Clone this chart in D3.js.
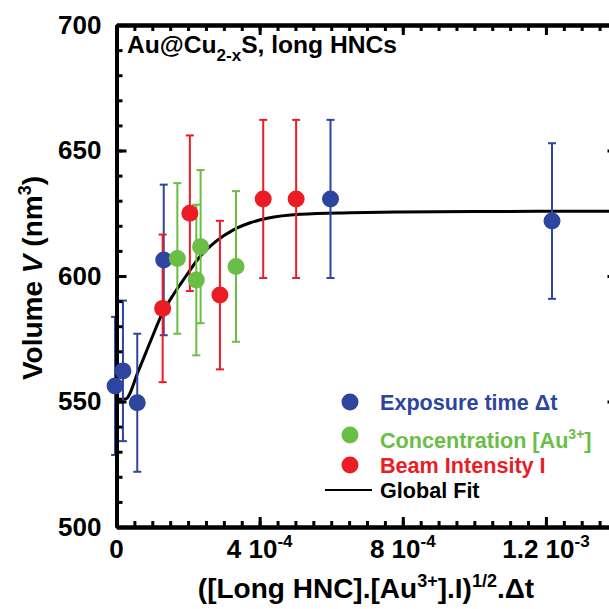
<!DOCTYPE html>
<html>
<head>
<meta charset="utf-8">
<script src="https://cdn.jsdelivr.net/npm/d3@7"></script>
<style>
  html, body { margin: 0; padding: 0; background: #fff; }
  svg { display: block; }
  text { font-family: "Liberation Sans", Arial, sans-serif; font-weight: bold; }
</style>
</head>
<body>
<div id="chart"></div>
<script>
// ---- data (x in units of the axis, y in nm^3) ----
const blueX   = [-0.04e-4, 0.18e-4, 0.58e-4, 1.32e-4, 5.98e-4, 12.17e-4];
const blueY   = [556.2, 562.2, 549.5, 606.4, 630.7, 621.9];
const blueErr = [27.5, 28, 27.5, 30, 31.5, 31];

const redX   = [1.29e-4, 2.05e-4, 2.89e-4, 4.10e-4, 5.02e-4];
const redY   = [587.1, 625.0, 592.4, 630.7, 630.7];
const redErr = [29.4, 31, 29.6, 31.5, 31.5];

const greenX   = [1.70e-4, 2.23e-4, 2.35e-4, 3.34e-4];
const greenY   = [607.0, 598.4, 611.7, 603.8];
const greenErr = [30, 30, 30.5, 30];

const fitX = [0, 0.25e-4, 0.62e-4, 0.95e-4, 1.28e-4, 1.60e-4, 1.93e-4, 2.30e-4, 2.77e-4, 3.28e-4, 3.74e-4, 4.21e-4, 5.14e-4, 6.54e-4, 7.93e-4, 10e-4, 14e-4];
const fitY = [550.9, 551.0, 562.5, 574.0, 585.1, 592.8, 599.7, 607.2, 613.7, 618.5, 621.2, 623.0, 624.6, 625.2, 625.5, 625.7, 625.8];

const yMajorTicks = [500, 550, 600, 650, 700];
const xMajorTicks = [0, 4e-4, 8e-4, 12e-4];
const xTickLabels = [["0", ""], ["4 10", "-4"], ["8 10", "-4"], ["1.2 10", "-3"]];

const seriesNames = ["Exposure time \u0394t", "Concentration [Au", "Beam Intensity I"];
const colors = { blue: "#2e45a0", green: "#6abd45", red: "#ec1c24" };

// ---- layout ----
const W = 609, H = 609;
const svg = d3.select("#chart").append("svg").attr("width", W).attr("height", H);

const x = d3.scaleLinear().domain([0, 14e-4]).range([116.5, 617.5]);
const y = d3.scaleLinear().domain([500, 700]).range([527, 25]);

const xMinor = d3.range(0, 14.01e-4, 0.5e-4);
const yMinor = d3.range(500, 701, 10);

// fit line
const line = d3.line().x((d, i) => x(fitX[i])).y((d, i) => y(fitY[i])).curve(d3.curveMonotoneX);
svg.append("path").datum(fitX).attr("d", line)
  .attr("fill", "none").attr("stroke", "#000").attr("stroke-width", 3);

// error bars
function errBars(xs, ys, es, col) {
  const g = svg.append("g").attr("stroke", col).attr("stroke-width", 2).attr("fill", "none");
  xs.forEach((xv, i) => {
    const cx = x(xv), y1 = y(ys[i] + es[i]), y2 = y(ys[i] - es[i]);
    g.append("line").attr("x1", cx).attr("x2", cx).attr("y1", y1).attr("y2", y2);
    g.append("line").attr("x1", cx - 4).attr("x2", cx + 4).attr("y1", y1).attr("y2", y1);
    g.append("line").attr("x1", cx - 4).attr("x2", cx + 4).attr("y1", y2).attr("y2", y2);
  });
}
errBars(blueX, blueY, blueErr, colors.blue);
errBars(redX, redY, redErr, colors.red);
errBars(greenX, greenY, greenErr, colors.green);

// axes
function styleAxis(g, w) {
  g.select(".domain").attr("stroke-width", w);
  g.selectAll(".tick line").attr("stroke-width", 3);
}
const axStroke = 4;
// left
svg.append("g").attr("transform", "translate(116.5,0)")
  .call(d3.axisLeft(y).tickValues(yMinor).tickSizeInner(-6).tickSizeOuter(0).tickFormat(""))
  .call(g => styleAxis(g, axStroke));
const leftMajor = svg.append("g").attr("transform", "translate(116.5,0)")
  .call(d3.axisLeft(y).tickValues(yMajorTicks).tickSizeInner(-10).tickSizeOuter(0).tickPadding(15).tickFormat(d3.format("d")))
  .call(g => styleAxis(g, axStroke));
leftMajor.selectAll("text").attr("font-size", 26).attr("fill", "#000")
  .style("font-family", "'Liberation Sans', Arial, sans-serif").style("font-weight", "bold");
// right
svg.append("g").attr("transform", "translate(617.5,0)")
  .call(d3.axisRight(y).tickValues(yMinor).tickSizeInner(-6).tickSizeOuter(0).tickFormat(""))
  .call(g => styleAxis(g, axStroke));
svg.append("g").attr("transform", "translate(617.5,0)")
  .call(d3.axisRight(y).tickValues(yMajorTicks).tickSizeInner(-10).tickSizeOuter(0).tickFormat(""))
  .call(g => styleAxis(g, axStroke));
// bottom
svg.append("g").attr("transform", "translate(0,527)")
  .call(d3.axisBottom(x).tickValues(xMinor).tickSizeInner(-6).tickSizeOuter(0).tickFormat(""))
  .call(g => styleAxis(g, axStroke));
svg.append("g").attr("transform", "translate(0,527)")
  .call(d3.axisBottom(x).tickValues(xMajorTicks).tickSizeInner(-10).tickSizeOuter(0).tickFormat(""))
  .call(g => styleAxis(g, axStroke));
// top
svg.append("g").attr("transform", "translate(0,25)")
  .call(d3.axisTop(x).tickValues(xMinor).tickSizeInner(-6).tickSizeOuter(0).tickFormat(""))
  .call(g => styleAxis(g, axStroke));
svg.append("g").attr("transform", "translate(0,25)")
  .call(d3.axisTop(x).tickValues(xMajorTicks).tickSizeInner(-10).tickSizeOuter(0).tickFormat(""))
  .call(g => styleAxis(g, axStroke));

// x tick labels with superscripts
xMajorTicks.forEach((v, i) => {
  const t = svg.append("text").attr("x", x(v)).attr("y", 558)
    .attr("text-anchor", "middle").attr("font-size", 26).attr("fill", "#000");
  t.append("tspan").text(xTickLabels[i][0]);
  if (xTickLabels[i][1]) t.append("tspan").attr("dy", -11).attr("font-size", 17).text(xTickLabels[i][1]);
});

// points
function pts(xs, ys, col) {
  svg.append("g").selectAll("circle").data(xs).join("circle")
    .attr("cx", d => x(d)).attr("cy", (d, i) => y(ys[i])).attr("r", 8.5).attr("fill", col);
}
pts(blueX, blueY, colors.blue);
pts(redX, redY, colors.red);
pts(greenX, greenY, colors.green);

// x title
const xt = svg.append("text").attr("x", 366).attr("y", 598).attr("text-anchor", "middle")
  .attr("font-size", 28).attr("fill", "#000");
xt.append("tspan").text("([Long HNC].[Au");
xt.append("tspan").attr("dy", -11).attr("font-size", 18).text("3+");
xt.append("tspan").attr("dy", 11).text("].I)");
xt.append("tspan").attr("dy", -11).attr("font-size", 18).text("1/2");
xt.append("tspan").attr("dy", 11).text(".\u0394t");

// y title
const yt = svg.append("text").attr("transform", "translate(42,278) rotate(-90)")
  .attr("text-anchor", "middle").attr("font-size", 28).attr("fill", "#000");
yt.append("tspan").text("Volume ");
yt.append("tspan").attr("font-style", "italic").text("V");
yt.append("tspan").text(" (nm");
yt.append("tspan").attr("dy", -11).attr("font-size", 18).text("3");
yt.append("tspan").attr("dy", 11).text(")");

// annotation
const an = svg.append("text").attr("x", 127).attr("y", 53).attr("font-size", 24.6).attr("fill", "#000");
an.append("tspan").text("Au@Cu");
an.append("tspan").attr("dy", 8).attr("font-size", 17).text("2-x");
an.append("tspan").attr("dy", -8).text("S, long HNCs");

// legend
const legY = [402, 435, 465];
const legBase = [410, 448, 473];
const legCols = [colors.blue, colors.green, colors.red];
legY.forEach((ly, i) => {
  svg.append("circle").attr("cx", 350).attr("cy", ly).attr("r", 8.5).attr("fill", legCols[i]);
  const t = svg.append("text").attr("x", 380).attr("y", legBase[i]).attr("font-size", 21.6).attr("fill", legCols[i]);
  t.append("tspan").text(seriesNames[i]);
  if (i === 1) {
    t.append("tspan").attr("dy", -9).attr("font-size", 14).text("3+");
    t.append("tspan").attr("dy", 9).text("]");
  }
});
svg.append("line").attr("x1", 325).attr("x2", 372).attr("y1", 490).attr("y2", 490)
  .attr("stroke", "#000").attr("stroke-width", 2);
svg.append("text").attr("x", 380).attr("y", 498).attr("font-size", 21.6).attr("fill", "#000").text("Global Fit");
</script>
</body>
</html>
